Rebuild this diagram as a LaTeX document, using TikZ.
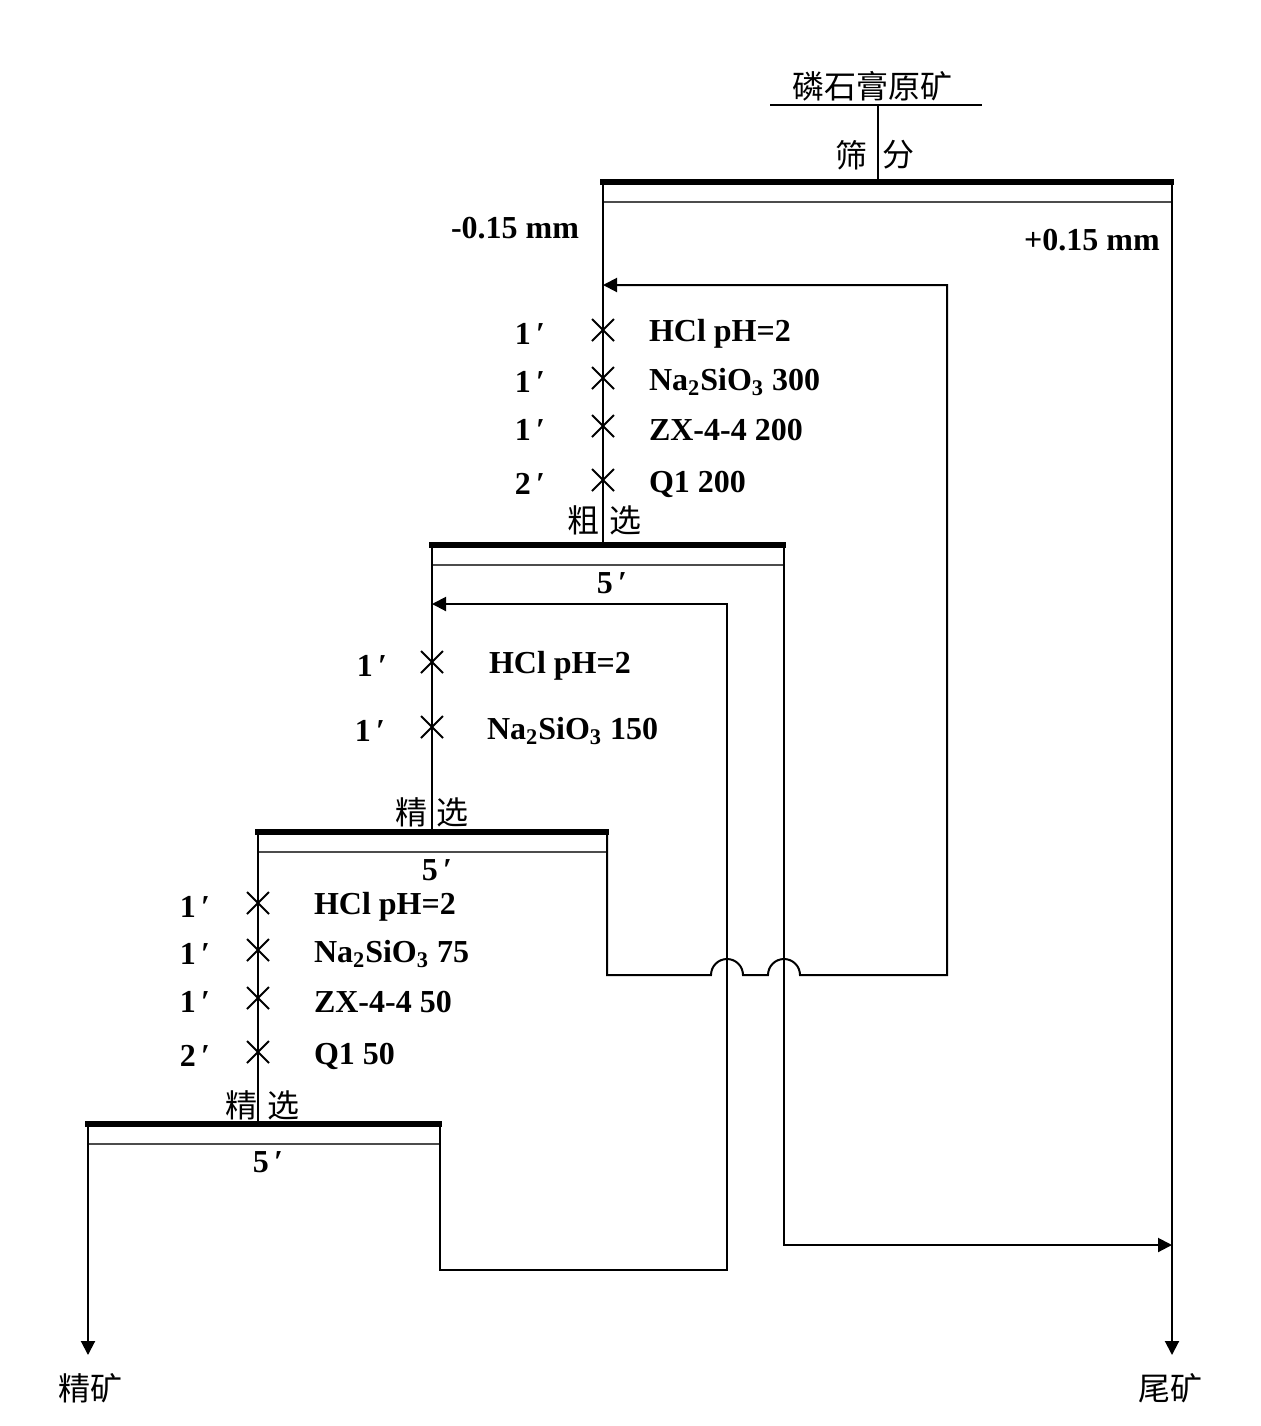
\documentclass[tikz,border=0pt]{standalone}
\usepackage{fontspec}
\setmainfont{Liberation Serif}
\newfontfamily\cjk{Noto Sans CJK SC}
\usetikzlibrary{arrows.meta}
\begin{document}
\begin{tikzpicture}[x=0.5pt,y=-0.5pt,line width=1pt,
    bar/.style={line width=3pt},
    sieve/.style={line width=0.8pt,black!70},
    flow/.style={-{Triangle[length=7pt,width=7pt]}},
    lbl/.style={font=\fontsize{16}{18}\selectfont\bfseries,inner sep=0pt},
    zh/.style={font=\fontsize{16}{18}\selectfont\cjk,inner sep=0pt}]
     % Definitions
     \def\crs{11}
     \def\hop{8pt}
     \useasboundingbox (0,0) rectangle (1260,1426);
     % Feed and screen
     \node[zh] (feed) at (872,86) {磷石膏原矿};
     \coordinate (feedl) at (770,105);
     \coordinate (feedr) at (982,105);
     \coordinate (feedc) at (878,105);
     \draw (feedl) -- (feedr);
     \node[zh] (scra) at (851,155) {筛};
     \node[zh] (scrb) at (898,155) {分};
     % Cells: name/left line/right line/bar height
     \foreach \n/\xl/\xr/\y in {s/603/1172/182,r/432/784/545,c/258/607/832,d/88/440/1124} {
      \draw[bar] (\xl-3,\y) -- (\xr+2,\y);
      \draw[sieve] (\xl,\y+20) -- (\xr,\y+20);
      \coordinate (\n-l) at (\xl,\y);
      \coordinate (\n-r) at (\xr,\y);
     };
     \coordinate (s-c) at (878,182);
     \coordinate (r-c) at (603,545);
     \coordinate (c-c) at (432,832);
     \coordinate (d-c) at (258,1124);
     \draw (feedc) -- (s-c);
     % Main line
     \draw (s-l) -- (r-c);
     \draw (r-l) -- (c-c);
     \draw (c-l) -- (d-c);
     \coordinate (conc) at (88,1355);
     \coordinate (tail) at (1172,1355);
     \draw[flow] (d-l) -- (conc);
     \draw[flow] (s-r) -- (tail);
     % Rougher tailing
     \coordinate (rt) at (784,1245);
     \coordinate (rtin) at (1172,1245);
     \draw[flow] (r-r) -- (rt) -- (rtin);
     % Middlings back
     \coordinate (m1a) at (607,975);
     \coordinate (m1b) at (947,975);
     \coordinate (m1c) at (947,285);
     \coordinate (m1d) at (603,285);
     \draw[flow] (c-r) -- (m1a) -- (711,975) arc[start angle=180,end angle=0,radius=\hop]
      -- (768,975) arc[start angle=180,end angle=0,radius=\hop] -- (m1b) -- (m1c) -- (m1d);
     \coordinate (m2a) at (440,1270);
     \coordinate (m2b) at (727,1270);
     \coordinate (m2c) at (727,604);
     \coordinate (m2d) at (432,604);
     \draw[flow] (d-r) -- (m2a) -- (m2b) -- (m2c) -- (m2d);
     % Reagents: line/height/time offset/text offset/time/reagent
     \foreach \x/\y/\m/\g/\t/\r in {603/330/73/45/1/HCl pH=2,603/378/73/45/1/Na\textsubscript{2}SiO\textsubscript{3} 300,
       603/426/73/45/1/ZX-4-4 200,603/480/73/45/2/Q1 200,
       432/662/60/56/1/HCl pH=2,432/727/62/54/1/Na\textsubscript{2}SiO\textsubscript{3} 150,
       258/903/63/55/1/HCl pH=2,258/950/63/55/1/Na\textsubscript{2}SiO\textsubscript{3} 75,
       258/998/63/55/1/ZX-4-4 50,258/1052/63/55/2/Q1 50} {
      \draw (\x-\crs,\y-\crs) -- (\x+\crs,\y+\crs);
      \draw (\x-\crs,\y+\crs) -- (\x+\crs,\y-\crs);
      \node[lbl] at (\x-\m,\y+4) {\t\,′};
      \node[lbl,anchor=west] at (\x+\g,\y+4) {\r};
     };
     % Stage names
     \node[zh] (ra) at (583,520) {粗};
     \node[zh] (rb) at (625,520) {选};
     \node[zh] (ca) at (411,812) {精};
     \node[zh] (cb) at (452,812) {选};
     \node[zh] (da) at (241,1105) {精};
     \node[zh] (db) at (283,1105) {选};
     \node[lbl] (rtime) at (612,583) {5\,′};
     \node[lbl] (ctime) at (437,870) {5\,′};
     \node[lbl] (dtime) at (268,1162) {5\,′};
     % Products
     \node[lbl] (fine) at (515,228) {-0.15 mm};
     \node[lbl] (coarse) at (1092,240) {+0.15 mm};
     \node[zh] (concl) at (90,1388) {精矿};
     \node[zh] (taill) at (1170,1388) {尾矿};
    \end{tikzpicture}
\end{document}
